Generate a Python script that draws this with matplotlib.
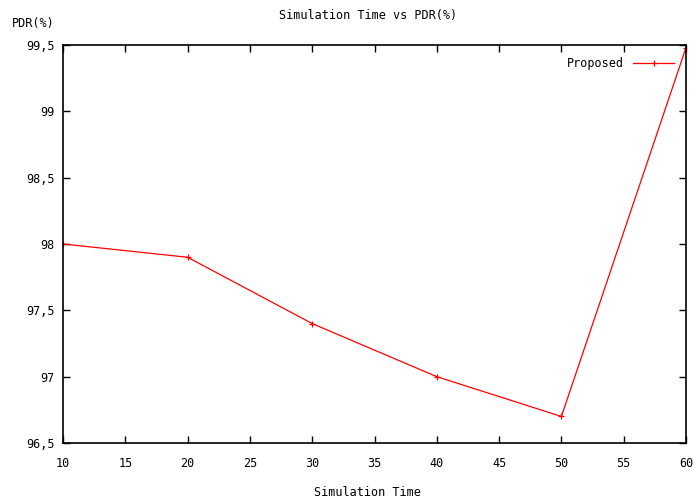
import matplotlib
matplotlib.use("Agg")
import matplotlib.pyplot as plt
from matplotlib.ticker import FuncFormatter

# data
sim_time = [10, 20, 30, 40, 50, 60]
pdr_proposed = [98.0, 97.9, 97.4, 97.0, 96.7, 99.48]
xticks = [10, 15, 20, 25, 30, 35, 40, 45, 50, 55, 60]
yticks = [96.5, 97, 97.5, 98, 98.5, 99, 99.5]

plt.rcParams['font.family'] = ['DejaVu Sans Mono']
plt.rcParams['font.size'] = 8.5

fig = plt.figure(figsize=(6.94, 5.04), dpi=100)
ax = fig.add_axes([63/694, 61/504, 623/694, 398/504])

ax.plot(sim_time, pdr_proposed, color='#ff0000', lw=0.9,
        marker='+', markersize=4, markeredgewidth=0.9, label='Proposed')

ax.set_xlim(10, 60)
ax.set_ylim(96.5, 99.5)
ax.set_xticks(xticks)
ax.set_yticks(yticks)
ax.yaxis.set_major_formatter(FuncFormatter(lambda v, p: ('%g' % v).replace('.', ',')))
ax.tick_params(direction='in', length=5, width=1, top=True, right=True)
ax.tick_params(axis='x', pad=10)
ax.tick_params(axis='y', pad=6)
for s in ax.spines.values():
    s.set_linewidth(1.2)

# axis titles placed like gnuplot does
fig.text(0.53, 1 - 493/504, 'Simulation Time', ha='center', va='center')
fig.text(12/694, 1 - 24/504, 'PDR(%)', ha='left', va='center')
fig.text(0.53, 1 - 15/504, 'Simulation Time vs PDR(%)', ha='center', va='center')

leg = ax.legend(loc='upper right', frameon=False, markerfirst=False,
                handlelength=3.5, borderaxespad=0.6)

fig.savefig('out.png', dpi=100)
